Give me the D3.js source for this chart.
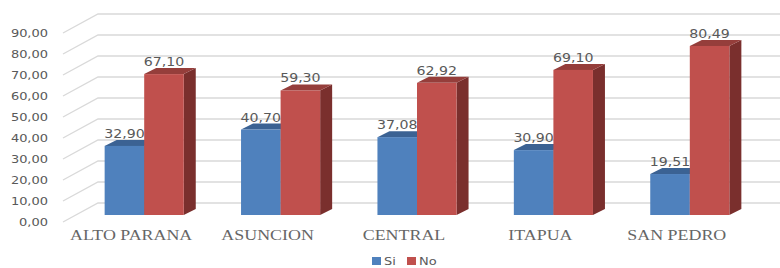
<!DOCTYPE html>
<html>
<head>
<meta charset="utf-8">
<script src="https://cdn.jsdelivr.net/npm/d3@7"></script>
<style>
  body { margin: 0; background: #fff; }
  svg { display: block; }
</style>
</head>
<body>
<div id="chart"></div>
<script>
const categories = ["ALTO PARANA", "ASUNCION", "CENTRAL", "ITAPUA", "SAN PEDRO"];
const seriesNames = ["Si", "No"];
const siValues = [32.90, 40.70, 37.08, 30.90, 19.51];
const noValues = [67.10, 59.30, 62.92, 69.10, 80.49];
const yTicks = [0, 10, 20, 30, 40, 50, 60, 70, 80, 90];

const width = 780, height = 268;
const stretch = 1.18; // the original text is drawn a bit wide
const catStretch = 1.28;
const colors = { Si: "#4F81BD", No: "#C0504D" };
const tops = { Si: "#3B6293", No: "#953E3B" };
const sides = { Si: "#325580", No: "#7A2F2D" };

// wall depth offset and where the bars sit inside it
const depth = { dx: 35, dy: -19 };
const barShift = { dx: 13, dy: -7 };
const cap = { dx: 12, dy: -6 };

const svg = d3.select("#chart").append("svg")
    .attr("width", width)
    .attr("height", height);

const yFront = d3.scaleLinear().domain([0, 90]).range([222, 33]);
const xFront = d3.scaleBand().domain(categories).range([63, 745])
    .paddingInner(0.42).paddingOuter(0.21);
const xSub = d3.scaleBand().domain(seriesNames).range([0, xFront.bandwidth()]);

const fmt = v => d3.format(".2f")(v).replace(".", ",");

// gridlines: side wall diagonal + back wall horizontal
const grid = svg.append("g").attr("stroke", "#D9D9D9").attr("stroke-width", 1.3).attr("fill", "none");
yTicks.forEach(t => {
    const y = yFront(t);
    grid.append("path")
        .attr("d", `M${63},${y}L${63 + depth.dx},${y + depth.dy}L${width},${y + depth.dy}`);
});

// y labels
svg.append("g").selectAll("text")
    .data(yTicks)
    .join("text")
    .attr("transform", d => `translate(48,${yFront(d) + 4}) scale(${stretch},1)`)
    .attr("text-anchor", "end")
    .style("font-family", "DejaVu Sans")
    .style("font-size", "11px")
    .style("fill", "#595959")
    .text(d => fmt(d));

// bars
const rows = [];
categories.forEach((c, i) => {
    rows.push({ cat: c, key: "Si", value: siValues[i] });
    rows.push({ cat: c, key: "No", value: noValues[i] });
});

const bars = svg.append("g").selectAll("g")
    .data(rows)
    .join("g");

bars.each(function (d) {
    const g = d3.select(this);
    const x0 = xFront(d.cat) + xSub(d.key) + barShift.dx;
    const x1 = x0 + xSub.bandwidth();
    const yb = yFront(0) + barShift.dy;
    const yt = yFront(d.value) + barShift.dy;
    // side
    g.append("path")
        .attr("d", `M${x1},${yb}L${x1 + cap.dx},${yb + cap.dy}L${x1 + cap.dx},${yt + cap.dy}L${x1},${yt}Z`)
        .attr("fill", sides[d.key]);
    // top
    g.append("path")
        .attr("d", `M${x0},${yt}L${x0 + cap.dx},${yt + cap.dy}L${x1 + cap.dx},${yt + cap.dy}L${x1},${yt}Z`)
        .attr("fill", tops[d.key]);
    // front
    g.append("rect")
        .attr("x", x0)
        .attr("y", yt)
        .attr("width", x1 - x0)
        .attr("height", yb - yt)
        .attr("fill", colors[d.key]);
    // value label
    g.append("text")
        .attr("transform", `translate(${(x0 + x1) / 2},${yt - 8}) scale(${stretch},1)`)
        .attr("text-anchor", "middle")
        .style("font-family", "DejaVu Sans")
        .style("font-size", "12px")
        .style("fill", "#595959")
        .text(fmt(d.value));
});

// category labels
svg.append("g").selectAll("text")
    .data(categories)
    .join("text")
    .attr("transform", d => `translate(${xFront(d) + xFront.bandwidth() / 2},${239.5}) scale(${catStretch},1)`)
    .attr("text-anchor", "middle")
    .style("font-family", "Liberation Serif")
    .style("font-size", "14px")
    .style("fill", "#666")
    .text(d => d);

// legend
const legend = svg.append("g");
const legendX = { Si: 372, No: 407 };
seriesNames.forEach(k => {
    legend.append("rect")
        .attr("x", legendX[k])
        .attr("y", 257)
        .attr("width", 9)
        .attr("height", 8)
        .attr("fill", colors[k]);
    legend.append("text")
        .attr("transform", `translate(${legendX[k] + 12},${265}) scale(${stretch},1)`)
        .style("font-family", "DejaVu Sans")
        .style("font-size", "11px")
        .style("fill", "#595959")
        .text(k);
});
</script>
</body>
</html>
